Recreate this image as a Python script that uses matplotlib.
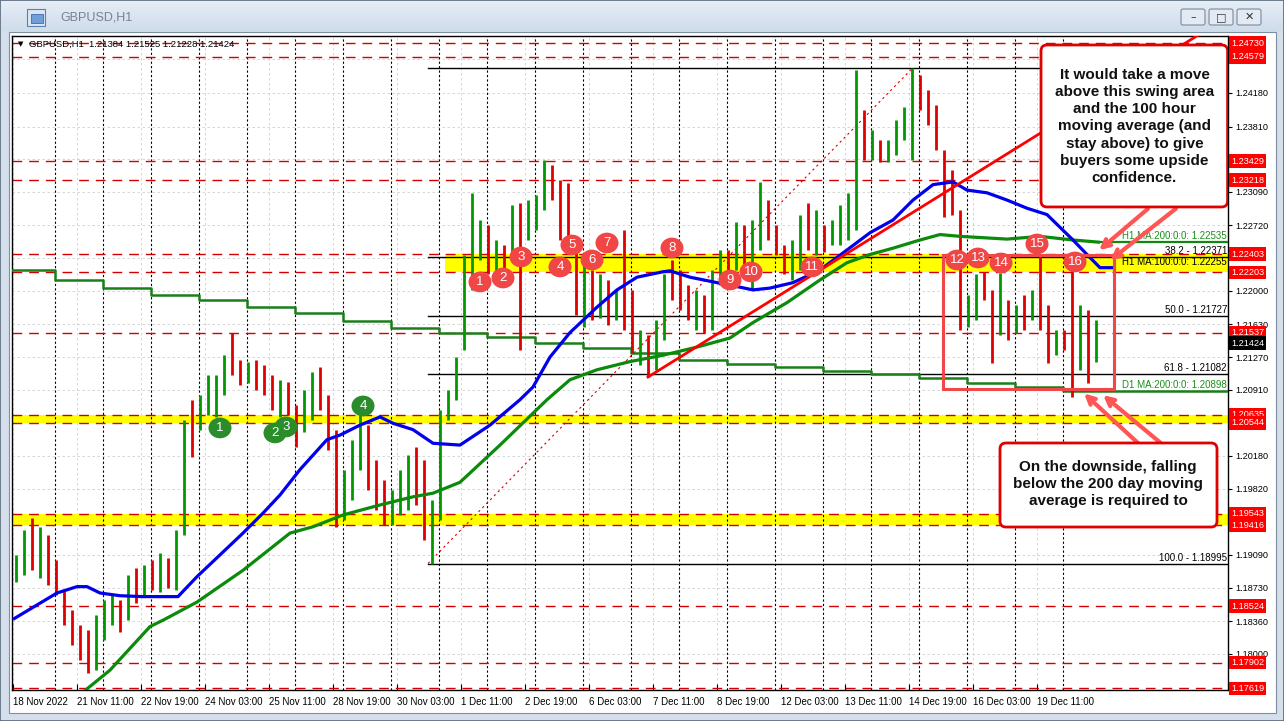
import matplotlib
matplotlib.use('Agg')
import matplotlib.pyplot as plt
from matplotlib.patches import Rectangle, Ellipse, FancyBboxPatch
import numpy as np

plt.rcParams['font.family'] = ['Liberation Sans', 'DejaVu Sans']

W, H = 1284, 721

# ---------------- data (GBPUSD H1, grouped in 4-hour bars) ----------------
bar_high = [1.1909, 1.1936, 1.1950, 1.1940, 1.1931, 1.1903, 1.1870, 1.1848, 1.1832, 1.1826,
            1.1843, 1.1859, 1.1865, 1.1859, 1.1887, 1.1895, 1.1898, 1.1903, 1.1911, 1.1906,
            1.1936, 1.2058, 1.2080, 1.2085, 1.2107, 1.2107, 1.2129, 1.2154, 1.2124, 1.2122,
            1.2124, 1.2118, 1.2107, 1.2102, 1.2100, 1.2074, 1.2091, 1.2111, 1.2116, 1.2085,
            1.2047, 1.2003, 1.2036, 1.2063, 1.2052, 1.2014, 1.1992, 1.1981, 1.2003, 1.2019,
            1.2028, 1.2014, 1.1970, 1.2069, 1.2091, 1.2127, 1.2240, 1.2308, 1.2278, 1.2273,
            1.2256, 1.2251, 1.2295, 1.2297, 1.2300, 1.2306, 1.2344, 1.2339, 1.2322, 1.2319,
            1.2256, 1.2240, 1.2223, 1.2218, 1.2212, 1.2201, 1.2267, 1.2201, 1.2157, 1.2151,
            1.2168, 1.2218, 1.2234, 1.2223, 1.2206, 1.2201, 1.2195, 1.2223, 1.2245, 1.2245,
            1.2276, 1.2273, 1.2278, 1.2320, 1.2300, 1.2273, 1.2251, 1.2256, 1.2284, 1.2297,
            1.2289, 1.2273, 1.2278, 1.2295, 1.2308, 1.2443, 1.2399, 1.2377, 1.2366, 1.2366,
            1.2388, 1.2403, 1.2446, 1.2438, 1.2421, 1.2405, 1.2355, 1.2333, 1.2289, 1.2195,
            1.2218, 1.2221, 1.2201, 1.2220, 1.2190, 1.2184, 1.2195, 1.2201, 1.2240, 1.2184,
            1.2157, 1.2157, 1.2223, 1.2184, 1.2179, 1.2168]
bar_low = [1.1879, 1.1887, 1.1892, 1.1884, 1.1876, 1.1865, 1.1832, 1.1810, 1.1793, 1.1779,
           1.1782, 1.1815, 1.1832, 1.1824, 1.1837, 1.1856, 1.1865, 1.1870, 1.1868, 1.1873,
           1.1870, 1.1931, 1.2017, 1.2047, 1.2063, 1.2061, 1.2085, 1.2107, 1.2096, 1.2098,
           1.2091, 1.2085, 1.2069, 1.2061, 1.2063, 1.2028, 1.2044, 1.2058, 1.2069, 1.2025,
           1.1940, 1.1947, 1.1970, 1.2003, 1.1981, 1.1958, 1.1942, 1.1942, 1.1953, 1.1958,
           1.1964, 1.1925, 1.18995, 1.1947, 1.2058, 1.2080, 1.2135, 1.2201, 1.2234, 1.2218,
           1.2218, 1.2215, 1.2234, 1.2135, 1.2256, 1.2267, 1.2289, 1.2300, 1.2256, 1.2242,
           1.2173, 1.2160, 1.2168, 1.2170, 1.2162, 1.2168, 1.2157, 1.2131, 1.2118, 1.2105,
           1.2113, 1.2146, 1.2190, 1.2179, 1.2168, 1.2157, 1.2154, 1.2157, 1.2206, 1.2218,
           1.2223, 1.2228, 1.2201, 1.2245, 1.2256, 1.2240, 1.2218, 1.2212, 1.2223, 1.2245,
           1.2240, 1.2243, 1.2251, 1.2251, 1.2256, 1.2267, 1.2344, 1.2344, 1.2342, 1.2342,
           1.2350, 1.2366, 1.2344, 1.2399, 1.2383, 1.2355, 1.2281, 1.2284, 1.2157, 1.2160,
           1.2168, 1.2190, 1.2121, 1.2151, 1.2146, 1.2154, 1.2157, 1.2168, 1.2157, 1.2121,
           1.2129, 1.2135, 1.2083, 1.2113, 1.2098, 1.2122]
bar_close = [1.1903, 1.1920, 1.1909, 1.1925, 1.1887, 1.1870, 1.1843, 1.1815, 1.1804, 1.1788,
             1.1832, 1.1848, 1.1859, 1.1832, 1.1876, 1.1865, 1.1892, 1.1876, 1.1903, 1.1881,
             1.1931, 1.2047, 1.2036, 1.2080, 1.2096, 1.2102, 1.2124, 1.2118, 1.2107, 1.2113,
             1.2096, 1.2091, 1.2074, 1.2085, 1.2069, 1.2058, 1.2085, 1.2102, 1.2080, 1.2036,
             1.1953, 1.1992, 1.2025, 1.2052, 1.1992, 1.1970, 1.1958, 1.1975, 1.1992, 1.2003,
             1.1981, 1.1936, 1.1958, 1.2063, 1.2085, 1.2124, 1.2228, 1.2245, 1.2251, 1.2234,
             1.2245, 1.2228, 1.2284, 1.2278, 1.2289, 1.2300, 1.2333, 1.2311, 1.2267, 1.2251,
             1.2190, 1.2201, 1.2190, 1.2206, 1.2179, 1.2195, 1.2168, 1.2140, 1.2146, 1.2124,
             1.2157, 1.2206, 1.2201, 1.2190, 1.2179, 1.2190, 1.2168, 1.2218, 1.2234, 1.2228,
             1.2256, 1.2240, 1.2267, 1.2284, 1.2262, 1.2245, 1.2228, 1.2251, 1.2273, 1.2256,
             1.2267, 1.2262, 1.2267, 1.2289, 1.2300, 1.2388, 1.2355, 1.2361, 1.2350, 1.2361,
             1.2383, 1.2399, 1.2432, 1.2416, 1.2394, 1.2366, 1.2311, 1.2295, 1.2179, 1.2184,
             1.2206, 1.2195, 1.2168, 1.2179, 1.2157, 1.2173, 1.2168, 1.2190, 1.2173, 1.2135,
             1.2146, 1.2140, 1.2135, 1.2168, 1.2124, 1.21424]

# 100 hour moving average (blue)  -> (hour index, price)
ma100_x = [0, 22, 32, 37, 43.5, 53.5, 65, 82.5, 92, 115, 125, 133.5, 143.5, 157, 163.5, 173.5,
           183.5, 190, 200, 210, 223.5, 238.5, 253.5, 260, 268.5, 278.5, 292, 302, 312, 325,
           328.5, 338.5, 352, 363.5, 370, 378.5, 390, 403.5, 417, 428.5, 440, 450, 460, 470,
           477, 487, 497, 507, 517, 523.5, 530, 537, 543.5, 551]
ma100_y = [1.1838, 1.1867, 1.1874, 1.1874, 1.1867, 1.1864, 1.1863, 1.1863, 1.1885, 1.1933,
           1.1955, 1.1975, 1.2003, 1.2036, 1.2041, 1.2052, 1.2061, 1.2054, 1.2047, 1.2032,
           1.2030, 1.2052, 1.2080, 1.2094, 1.2127, 1.2154, 1.2182, 1.2201, 1.2215, 1.2221,
           1.2222, 1.2215, 1.2209, 1.2204, 1.2201, 1.2203, 1.2209, 1.2223, 1.2245, 1.2264,
           1.2278, 1.2300, 1.2317, 1.2320, 1.2311, 1.2308, 1.2300, 1.2291, 1.2284, 1.2270,
           1.2256, 1.2240, 1.22255, 1.22255]

# 200 hour moving average (green)
ma200_x = [33.5, 48.5, 68.5, 75, 92, 115, 138.5, 150, 165, 183.5, 200, 210, 223.5, 243.5, 267,
           278.5, 292, 308.5, 325, 342, 358.5, 370, 387, 403.5, 417, 428.5, 440, 453.5, 463.5,
           473.5, 497, 513.5, 530, 543.5]
ma200_y = [1.1755, 1.1782, 1.1830, 1.1837, 1.1857, 1.1892, 1.1933, 1.1940, 1.1953, 1.1964,
           1.1973, 1.1977, 1.1989, 1.2030, 1.2080, 1.2102, 1.2113, 1.2122, 1.2129, 1.2138,
           1.2148, 1.2165, 1.2187, 1.2212, 1.2231, 1.2240, 1.2247, 1.2256, 1.2262, 1.2260,
           1.2257, 1.2260, 1.2256, 1.22535]

# 200 day moving average (one value per trading day)
d1_ma = [1.2223, 1.2212, 1.2203, 1.2195, 1.2190, 1.2182, 1.2176, 1.2167, 1.2159, 1.2154,
         1.2149, 1.2142, 1.2137, 1.2131, 1.2124, 1.2119, 1.2116, 1.2112, 1.2108, 1.2104,
         1.2098, 1.2094, 1.20898]

price_ticks = [1.18000, 1.18360, 1.18730, 1.19090, 1.19460, 1.19820, 1.20180, 1.20550,
               1.20910, 1.21270, 1.21630, 1.22000, 1.22360, 1.22720, 1.23090, 1.23450,
               1.23810, 1.24180, 1.24550]
# tick labels that sit under a level box on the price scale
hidden_ticks = [1.19460, 1.20550, 1.22360, 1.23450, 1.24550]
date_labels = ['18 Nov 2022', '21 Nov 11:00', '22 Nov 19:00', '24 Nov 03:00', '25 Nov 11:00',
               '28 Nov 19:00', '30 Nov 03:00', '1 Dec 11:00', '2 Dec 19:00', '6 Dec 03:00',
               '7 Dec 11:00', '8 Dec 19:00', '12 Dec 03:00', '13 Dec 11:00', '14 Dec 19:00',
               '16 Dec 03:00', '19 Dec 11:00']

red_levels = [1.24730, 1.24579, 1.23429, 1.23218, 1.22403, 1.22203, 1.21537, 1.20635,
              1.20544, 1.19543, 1.19416, 1.18524, 1.17902, 1.17619]
yellow_bands = [(216, 1.22203, 1.22403), (-0.5, 1.20544, 1.20635), (-0.5, 1.19416, 1.19543)]

fib_pct = [0.0, 38.2, 50.0, 61.8, 100.0]
fib_price = [1.24459, 1.22371, 1.21727, 1.21082, 1.18995]
fib_start = (207.5, 1.18995)
fib_end = (450, 1.24459)

trend_x = [317.5, 592]
trend_y = [1.2105, 1.2481]

red_marks = [(233.5, 1.22097), (245, 1.22141), (254, 1.22373), (273.5, 1.22263),
             (279.5, 1.22505), (289.5, 1.22340), (297, 1.22527), (329.5, 1.22472),
             (358.5, 1.22119), (369, 1.22208), (399.5, 1.22263), (472, 1.22340),
             (482.5, 1.22362), (494, 1.22307), (512, 1.22516), (531, 1.22318)]
green_marks = [(103.5, 1.20489), (131, 1.20434), (136.5, 1.20500), (175, 1.20731)]

current_price = 1.21424

# ---------------- figure / window frame ----------------
fig = plt.figure(figsize=(W / 100, H / 100), dpi=100)
bg = fig.add_axes([0, 0, 1, 1])
bg.set_xlim(0, W)
bg.set_ylim(H, 0)
bg.axis('off')
bg.add_patch(Rectangle((0, 0), W, H, fc='#d4dfeb', ec='#5a6b7d', lw=1.2))
grad = np.linspace(0, 1, 32).reshape(-1, 1)
bg.imshow(grad, extent=(1, W - 1, 31, 1), cmap=matplotlib.colors.LinearSegmentedColormap.from_list(
    'tb', ['#e6eef7', '#cfdcea']), aspect='auto', zorder=1)
bg.add_patch(Rectangle((27, 9), 18, 17, fc='#dbe6f3', ec='#5b7fb0', lw=0.8, zorder=2))
bg.add_patch(Rectangle((31, 14), 12, 9, fc='#6f9fd8', ec='#3e6aa8', lw=0.6, zorder=3))
bg.text(60, 18, 'GBPUSD,H1', fontsize=9, color='#78828e', va='center', zorder=3)
for bx, glyph in [(1181, '\u2013'), (1209, '\u25a1'), (1237, '\u2715')]:
    bg.add_patch(FancyBboxPatch((bx, 9), 24, 16, boxstyle='round,pad=0,rounding_size=2',
                                fc='#e3eaf3', ec='#7a8a9c', lw=0.8, zorder=2))
    bg.text(bx + 12, 17, glyph, fontsize=8, ha='center', va='center', color='#333333',
            family='DejaVu Sans', zorder=3)
bg.add_patch(Rectangle((9, 32), 1267, 681, fc='white', ec='#7f8fa0', lw=0.8, zorder=2))

# ---------------- chart ----------------
ax = fig.add_axes([12 / W, 1 - 690 / H, 1216 / W, 654 / H])
ax.set_facecolor('white')
ax.set_xlim(-0.5, 607.5)
ax.set_ylim(1.17601, 1.24808)
for s in ax.spines.values():
    s.set_color('black')
    s.set_linewidth(1)

ax.yaxis.tick_right()
ax.set_yticks(price_ticks)
ax.set_yticklabels(['' if p in hidden_ticks else '%.5f' % p for p in price_ticks])
ax.tick_params(axis='y', direction='out', length=3, labelsize=6.6, pad=2)
date_pos = [32 * k for k in range(len(date_labels))]
ax.set_xticks(date_pos)
ax.set_xticklabels(date_labels, ha='left')
ax.tick_params(axis='x', direction='in', length=4, labelsize=7, pad=5)
ax.grid(True, color='#d0d0d0', linestyle=(0, (3, 3)), linewidth=0.6)
ax.set_axisbelow(True)

# day separators
for d in range(22):
    ax.axvline(21 + 24 * d, color='black', ls=(0, (2, 2)), lw=0.8, zorder=1.5)

# yellow zones and red dashed levels
for x0, lo, hi in yellow_bands:
    ax.fill_between([x0, 607.5], lo, hi, color='#ffff00', lw=0, zorder=1)
for lv in red_levels:
    ax.axhline(lv, color='#d40000', ls=(0, (7, 5)), lw=1, zorder=2)

# fibonacci retracement
for pct, p in zip(fib_pct, fib_price):
    ax.plot([fib_start[0], 607.5], [p, p], color='black', lw=1, zorder=2)
    ax.text(607, p + 0.0001, '%.1f - %.5f' % (pct, p), ha='right', va='bottom',
            fontsize=7, color='black', zorder=6)
ax.plot([fib_start[0], fib_end[0]], [fib_start[1], fib_end[1]], color='#d40000',
        ls=(0, (2, 3)), lw=0.8, zorder=2)

# D1 200 MA step line
d1_x = [-0.5] + [21 + 24 * d for d in range(len(d1_ma) - 1)] + [607.5]
ax.step(d1_x, d1_ma + [d1_ma[-1]], where='post', color='#1a7f1a', lw=1.8, zorder=3)
ax.text(607, d1_ma[-1] + 0.0001, 'D1 MA:200:0:0: %.5f' % d1_ma[-1], ha='right', va='bottom',
        fontsize=7, color='#1a8f1a', zorder=6)

# price bars
bar_x = np.arange(len(bar_high)) * 4 + 1.5
opens = [bar_close[0]] + bar_close[:-1]
cols = ['#009900' if c >= o else '#e00000' for o, c in zip(opens, bar_close)]
ax.vlines(bar_x, bar_low, bar_high, colors=cols, lw=2.0, zorder=4)

# hourly moving averages
ax.plot(ma200_x, ma200_y, color='#0b8a0b', lw=2.3, zorder=5, solid_capstyle='butt')
ax.plot([ma200_x[-1], 607.5], [ma200_y[-1], ma200_y[-1]], color='#0b8a0b', lw=1.6, zorder=5)
ax.plot(ma100_x, ma100_y, color='#0000ee', lw=2.3, zorder=5, solid_capstyle='butt')
ax.text(607, ma200_y[-1] + 0.0001, 'H1 MA:200:0:0: %.5f' % ma200_y[-1], ha='right',
        va='bottom', fontsize=7, color='#1a8f1a', zorder=6)
ax.text(607, ma100_y[-1] + 0.0001, 'H1 MA:100:0:0: %.5f' % ma100_y[-1], ha='right',
        va='bottom', fontsize=7, color='black', zorder=6)

# trend line and consolidation box
ax.plot(trend_x, trend_y, color='#ff0000', lw=2, zorder=6)
ax.add_patch(Rectangle((465, 1.2092), 85.5, 1.2240 - 1.2092, fill=False, ec='#f04848',
                       lw=2.2, zorder=6))

# numbered touches
for n, (x, y) in enumerate(red_marks, 1):
    ax.add_patch(Ellipse((x, y), 11.5, 0.00228, fc='#f04646', ec='none', zorder=7))
    ax.text(x, y, str(n), ha='center', va='center', color='white', fontsize=9.5, zorder=8)
for n, (x, y) in enumerate(green_marks, 1):
    ax.add_patch(Ellipse((x, y), 11.5, 0.00228, fc='#2a8c2a', ec='none', zorder=7))
    ax.text(x, y, str(n), ha='center', va='center', color='white', fontsize=9.5, zorder=8)

# header
ax.text(0.005, 0.988, '\u25bc', transform=ax.transAxes, fontsize=5, family='DejaVu Sans',
        va='center', ha='left', zorder=9)
ax.text(0.014, 0.988, 'GBPUSD,H1  1.21384 1.21525 1.21228 1.21424', transform=ax.transAxes,
        fontsize=6.8, va='center', ha='left', zorder=9)

# right axis price boxes
for lv in red_levels:
    ax.text(1.0025, lv, '%.5f' % lv, transform=ax.get_yaxis_transform(), ha='left',
            va='center', fontsize=6.6, color='white', zorder=20, clip_on=False,
            bbox=dict(boxstyle='square,pad=0.25', fc='#ff0000', ec='none'))
ax.text(1.0025, current_price, '%.5f' % current_price, transform=ax.get_yaxis_transform(),
        ha='left', va='center', fontsize=6.6, color='white', zorder=20, clip_on=False,
        bbox=dict(boxstyle='square,pad=0.25', fc='black', ec='none'))

# callout boxes
asp = 0.0001102 / 0.5
ax.add_patch(FancyBboxPatch((514, 1.22924), 93.3, 1.24709 - 1.22924,
                            boxstyle='round,pad=0,rounding_size=3', mutation_aspect=asp,
                            fc='white', ec='#e00000', lw=2, zorder=12))
ax.text(560.75, 1.23811, 'It would take a move\nabove this swing area\nand the 100 hour\n'
        'moving average (and\nstay above) to give\nbuyers some upside\nconfidence.',
        ha='center', va='center', fontsize=11, fontweight='bold', linespacing=1.3,
        color='#111111', zorder=13)
ax.add_patch(FancyBboxPatch((493.5, 1.19397), 108.5, 1.20323 - 1.19397,
                            boxstyle='round,pad=0,rounding_size=3', mutation_aspect=asp,
                            fc='white', ec='#e00000', lw=2, zorder=12))
ax.text(547.5, 1.19871, 'On the downside, falling\nbelow the 200 day moving\n'
        'average is required to', ha='center', va='center', fontsize=11,
        fontweight='bold', linespacing=1.3, color='#111111', zorder=13)

arrow_kw = dict(arrowstyle='->', color='#ff5555', lw=3, mutation_scale=14)
for (x0, y0), (x1, y1) in [((568.5, 1.22924), (542, 1.22428)),
                           ((582.5, 1.22924), (547.5, 1.22318)),
                           ((563.5, 1.20302), (534.5, 1.20890)),
                           ((575, 1.20302), (544, 1.20870))]:
    ax.annotate('', xy=(x1, y1), xytext=(x0, y0), arrowprops=arrow_kw, zorder=11)

fig.savefig('out.png', dpi=100)
